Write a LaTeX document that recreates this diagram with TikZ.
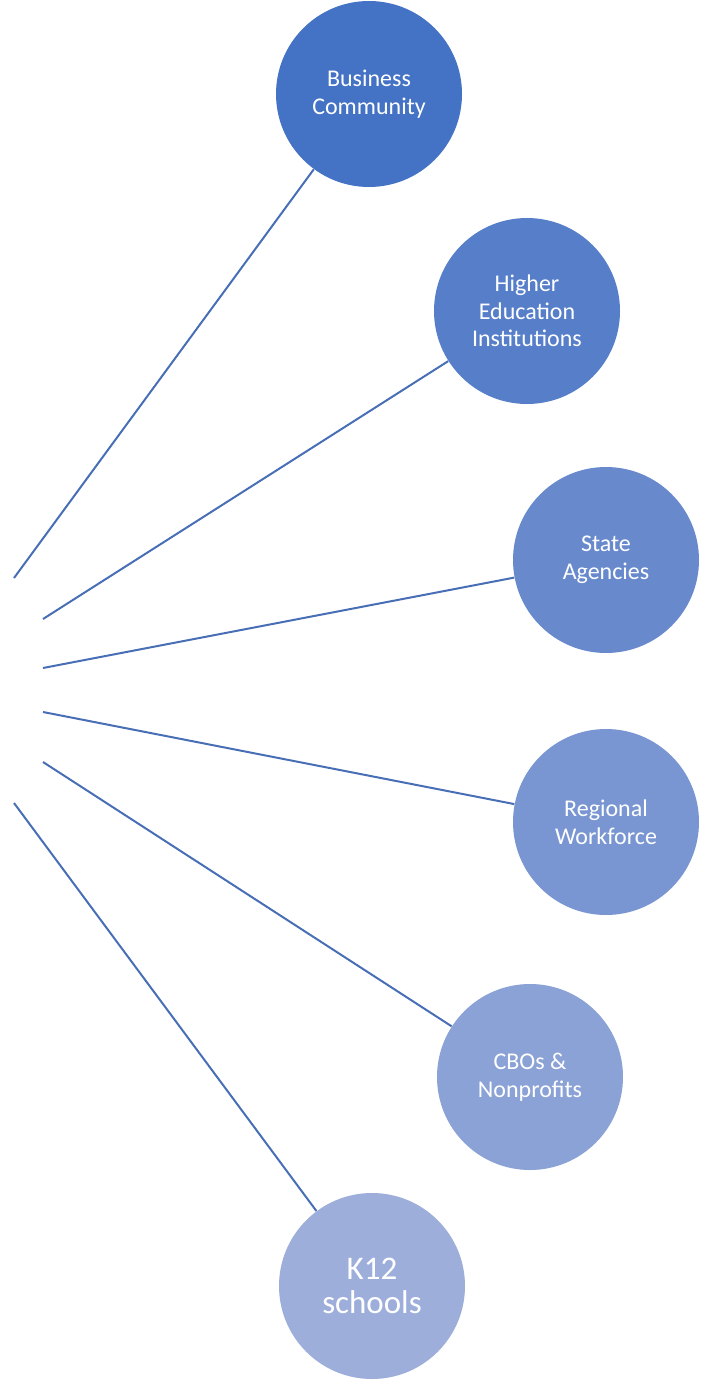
\documentclass[tikz,border=0pt]{standalone}
\usepackage{fontspec}
\setmainfont{Carlito}

\definecolor{hubA}{RGB}{68,114,196}
\definecolor{hubB}{RGB}{86,126,201}
\definecolor{hubC}{RGB}{104,138,205}
\definecolor{hubD}{RGB}{121,150,210}
\definecolor{hubE}{RGB}{139,162,214}
\definecolor{hubF}{RGB}{157,174,219}
\definecolor{spoke}{RGB}{72,110,182}

\tikzset{
  partner/.style={circle,minimum size=93pt,inner sep=0pt,align=center,
    text=white,font=\fontsize{12}{13.8}\selectfont},
  link/.style={draw=spoke,line width=1pt}
}

\begin{document}
\begin{tikzpicture}[x=0.5pt,y=-0.5pt]

                \useasboundingbox (0,0) rectangle (703,1380);

                % partner circles
                \node[partner,fill=hubA] (business) at(369,94) {Business\\Community};
                \node[partner,fill=hubB] (higher) at(527,311) {Higher\\Education\\Institutions};
                \node[partner,fill=hubC] (state) at(606,560) {State\\Agencies};
                \node[partner,fill=hubD] (regional) at(606,822) {Regional\\Workforce};
                \node[partner,fill=hubE] (cbos) at(530,1077) {CBOs \&\\Nonprofits};
                \node[partner,fill=hubF,font=\fontsize{16.5}{17}\selectfont] (k12) at(372,1286) {K12\\schools};

                % free ends on the left
                \coordinate (e1) at(14,578);
                \coordinate (e2) at(43,619);
                \coordinate (e3) at(43,668);
                \coordinate (e4) at(43,712);
                \coordinate (e5) at(43,762);
                \coordinate (e6) at(14,803);

                \draw[link] (e1)--(business);
                \draw[link] (e2)--(higher);
                \draw[link] (e3)--(state);
                \draw[link] (e4)--(regional);
                \draw[link] (e5)--(cbos);
                \draw[link] (e6)--(k12);

            \end{tikzpicture}
\end{document}
